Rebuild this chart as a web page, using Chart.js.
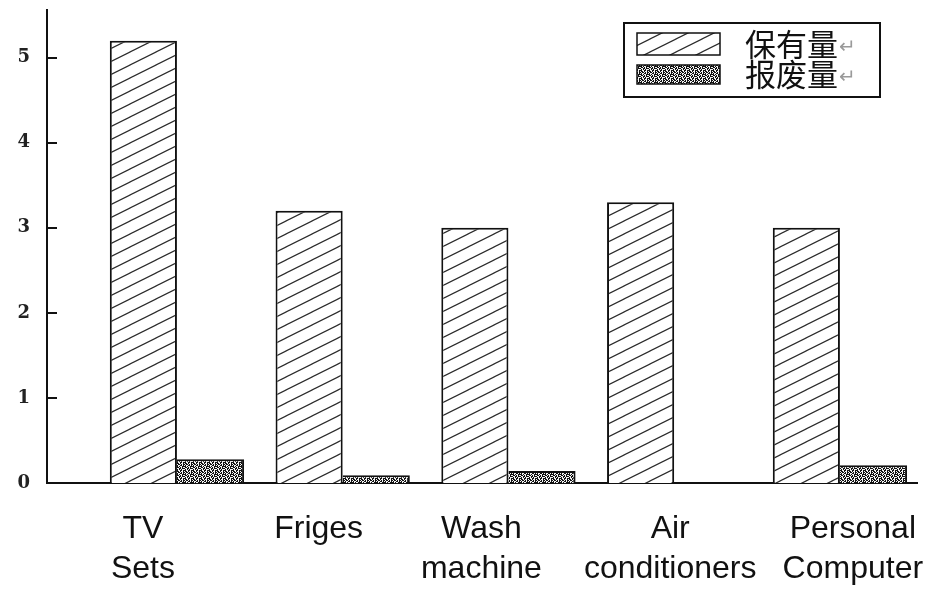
<!DOCTYPE html>
<html>
<head>
<meta charset="utf-8">
<script src="https://cdn.jsdelivr.net/npm/chart.js@4.4.1/dist/chart.umd.min.js"></script>
<style>
  html, body { margin: 0; padding: 0; background: #ffffff; }
  #wrap { width: 942px; height: 592px; position: relative; }
</style>
</head>
<body>
<div id="wrap"><canvas id="c"></canvas></div>
<script>
// ---- data ----
const categories = [['TV', 'Sets'], ['Friges'], ['Wash', 'machine'], ['Air', 'conditioners'], ['Personal', 'Computer']];
const seriesNames = ['保有量', '报废量'];
const stockValues = [5.2, 3.2, 3.0, 3.3, 3.0];   // 保有量
const scrapValues = [0.28, 0.09, 0.14, 0, 0.21]; // 报废量
const yTickValues = [0, 1, 2, 3, 4, 5];

// ---- styling helpers ----
function hatchPattern() {
  const c = document.createElement('canvas');
  c.width = 26; c.height = 13;
  const g = c.getContext('2d');
  g.fillStyle = '#ffffff';
  g.fillRect(0, 0, 26, 13);
  g.strokeStyle = '#2a2a2a';
  g.lineWidth = 1.2;
  [-13, 0, 13].forEach(dy => {
    g.beginPath();
    g.moveTo(-2, 13 + dy + 1);
    g.lineTo(28, dy - 1);
    g.stroke();
  });
  return g.createPattern(c, 'repeat');
}
function speckPattern() {
  const rows = [
    '#.##.#.#',
    '.#..##.#',
    '##.#..##',
    '.##.#.#.',
    '#..##.##',
    '.#.#.#..',
    '##..##.#',
    '.##.#..#'
  ];
  const c = document.createElement('canvas');
  c.width = 8; c.height = 8;
  const g = c.getContext('2d');
  rows.forEach((r, y) => {
    for (let x = 0; x < r.length; x++) {
      g.fillStyle = r[x] === '#' ? '#111111' : '#f4f4f4';
      g.fillRect(x, y, 1, 1);
    }
  });
  return g.createPattern(c, 'repeat');
}

const hatch = hatchPattern();
const speck = speckPattern();

// label placement nudges (layout only)
const LABEL_NUDGE = [-0.205, -0.145, -0.163, -0.024, 0.078];

// y-axis inward tick marks
const innerTicks = {
  id: 'innerTicks',
  afterDraw(chart) {
    const {ctx, chartArea} = chart;
    const ys = chart.scales.y;
    ctx.save();
    ctx.strokeStyle = '#111';
    ctx.lineWidth = 2;
    ys.ticks.forEach(t => {
      const py = Math.round(ys.getPixelForValue(t.value));
      ctx.beginPath();
      ctx.moveTo(chartArea.left, py);
      ctx.lineTo(chartArea.left + 10, py);
      ctx.stroke();
    });
    ctx.restore();
  }
};

// boxed legend
const boxedLegend = {
  id: 'boxedLegend',
  afterDraw(chart) {
    const {ctx, chartArea} = chart;
    const x0 = chartArea.right - 293, y0 = chartArea.top + 13, w = 256, h = 74;
    ctx.save();
    ctx.lineWidth = 2;
    ctx.strokeStyle = '#111';
    ctx.strokeRect(x0, y0, w, h);
    const swatches = [{y: y0 + 10, h: 22}, {y: y0 + 42, h: 19}];
    const textY = [y0 + 21, y0 + 51];
    chart.data.datasets.forEach((ds, i) => {
      const s = swatches[i];
      ctx.fillStyle = ds.backgroundColor;
      ctx.fillRect(x0 + 13, s.y, 83, s.h);
      ctx.lineWidth = 1.5;
      ctx.strokeStyle = '#111';
      ctx.strokeRect(x0 + 13, s.y, 83, s.h);
      ctx.font = '31px "Noto Sans CJK SC"';
      ctx.fillStyle = '#111';
      ctx.textBaseline = 'middle';
      ctx.textAlign = 'left';
      ctx.fillText(ds.label, x0 + 121, textY[i]);
      const tw = ctx.measureText(ds.label).width;
      ctx.font = '20px "Noto Sans CJK SC"';
      ctx.fillStyle = '#9a9a9a';
      ctx.fillText('↵', x0 + 121 + tw + 1, textY[i] + 1);
    });
    ctx.restore();
  }
};

new Chart(document.getElementById('c'), {
  type: 'bar',
  data: {
    datasets: [
      {
        label: seriesNames[0],
        data: stockValues.map((v, i) => ({x: i, y: v})),
        backgroundColor: hatch,
        borderColor: '#111',
        borderWidth: {top: 2, left: 2, right: 2, bottom: 0}
      },
      {
        label: seriesNames[1],
        data: scrapValues.map((v, i) => ({x: i, y: v})),
        backgroundColor: speck,
        borderColor: '#111',
        borderWidth: {top: 2, left: 0, right: 2, bottom: 0}
      }
    ]
  },
  options: {
    responsive: true,
    maintainAspectRatio: false,
    animation: false,
    categoryPercentage: 0.825,
    barPercentage: 1.0,
    layout: { padding: {top: 10, right: 25, bottom: 0, left: 0} },
    plugins: {
      legend: { display: false },
      tooltip: { enabled: false }
    },
    scales: {
      x: {
        type: 'linear',
        offset: false,
        bounds: 'data',
        min: -0.784,
        max: 4.465,
        grid: { display: false, drawTicks: false, offset: false },
        border: { display: true, width: 2, color: '#111' },
        afterBuildTicks(scale) {
          scale.ticks = categories.map((c, i) => ({value: i + LABEL_NUDGE[i]}));
        },
        afterFit(scale) {
          scale.height = 109;
          scale.paddingLeft = 0;
          scale.paddingRight = 0;
        },
        ticks: {
          autoSkip: false,
          maxRotation: 0,
          minRotation: 0,
          padding: 26,
          color: '#111',
          font: { family: '"Liberation Sans", Arial, sans-serif', size: 32, lineHeight: 1.25 },
          callback: (value, index) => categories[index]
        }
      },
      y: {
        min: 0,
        max: 5.56,
        grid: { display: false, drawTicks: false },
        border: { display: true, width: 2, color: '#111' },
        afterBuildTicks(scale) {
          scale.ticks = yTickValues.map(v => ({value: v}));
        },
        afterFit(scale) {
          scale.width = 47;
          scale.paddingTop = 0;
          scale.paddingBottom = 0;
        },
        ticks: {
          padding: 17,
          color: '#222',
          font: { family: '"DejaVu Serif", serif', size: 18, weight: 'bold' },
          callback: v => String(v)
        }
      }
    }
  },
  plugins: [innerTicks, boxedLegend]
});
</script>
</body>
</html>
